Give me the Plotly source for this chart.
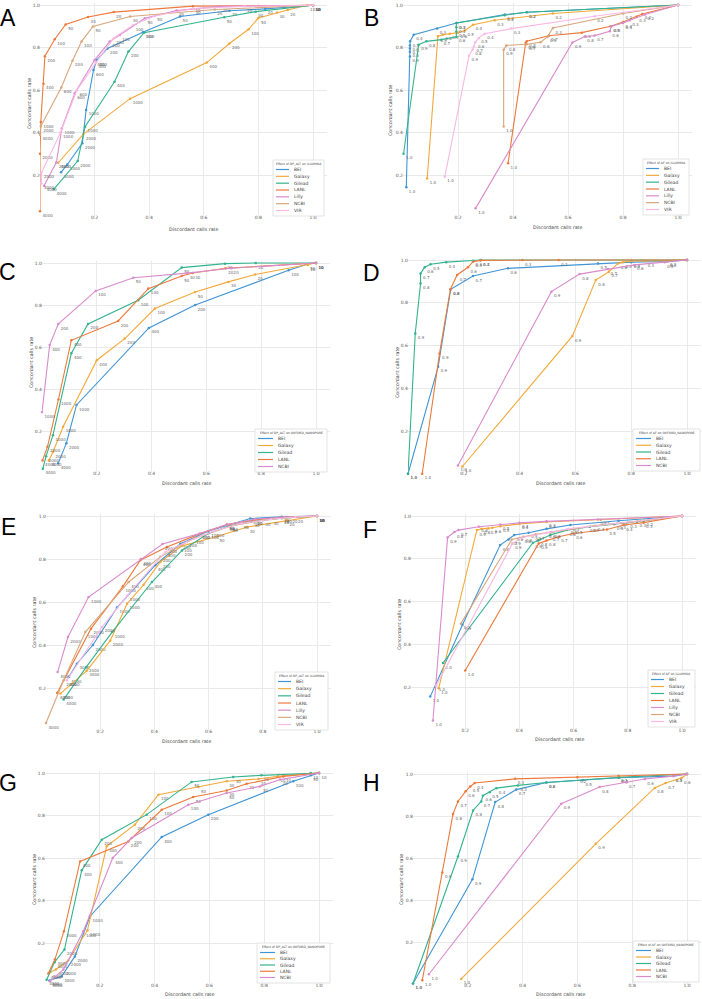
import plotly.graph_objects as go

W, H = 702, 999

TICK_VALS = [0.2, 0.4, 0.6, 0.8, 1.0]
TICK_TEXT = ["0.2", "0.4", "0.6", "0.8", "1.0"]
X_TITLE = "Discordant calls rate"
Y_TITLE = "Concordant calls rate"

COL_BEI = "#3f94d4"
COL_GALAXY = "#f2a93b"
COL_GILEAD = "#33b38d"
COL_LANL = "#ec7a3c"
COL_PINK = "#d98bcc"
COL_NCBI = "#d8a77c"
COL_VIR = "#f9b9e6"

# ---------------- Panel A : DP_ALT on ILLUMINA ----------------
A_BEI = [(0.077, 0.213, '4000'), (0.10, 0.25, '3000'), (0.155, 0.35, '2000'), (0.169, 0.507, '1000'),
         (0.196, 0.695, '600'), (0.208, 0.742, '400'), (0.247, 0.797, '200'), (0.377, 0.873, '100'),
         (0.513, 0.947, '50'), (0.694, 0.974, '30'), (0.825, 0.983, '20'), (1.0, 1.0, '10')]
A_GALAXY = [(0.067, 0.258, '4000'), (0.159, 0.393, '2000'), (0.33, 0.56, '1000'), (0.611, 0.73, '400'),
            (0.694, 0.82, '200'), (0.764, 0.887, '100'), (0.80, 0.94, '50'), (0.868, 0.966, '30'),
            (0.907, 0.978, '20'), (0.98, 1.0, '10')]
A_GILEAD = [(0.051, 0.134, '4000'), (0.138, 0.266, '2000'), (0.165, 0.428, '1000'), (0.273, 0.64, '400'),
            (0.324, 0.782, '200'), (0.381, 0.871, '100'), (0.675, 0.944, '50'), (0.79, 0.97, '30'),
            (1.0, 1.0, '10')]
A_LANL = [(0.0, 0.03, '4000'), (0.0, 0.30, '2000'), (0.003, 0.45, '1000'), (0.013, 0.63, '400'),
          (0.018, 0.76, '200'), (0.054, 0.84, '100'), (0.094, 0.91, '50'), (0.176, 0.945, '30'),
          (0.27, 0.968, '20'), (0.56, 0.996, '10'), (1.0, 1.0, '')]
A_LILLY = [(0.015, 0.15, '4000'), (0.06, 0.26, '2000'), (0.08, 0.42, '1000'), (0.127, 0.585, '600'),
           (0.2, 0.742, '400'), (0.255, 0.829, '200'), (0.292, 0.86, '100'), (0.384, 0.939, '50'),
           (0.5, 0.975, '30'), (0.66, 0.995, '20'), (1.0, 1.0, '10')]
A_NCBI = [(0.0, 0.39, '4000'), (0.003, 0.43, '2000'), (0.078, 0.613, '600'), (0.119, 0.739, '200'),
          (0.152, 0.829, '100'), (0.194, 0.90, '50'), (0.33, 0.947, '30'), (0.64, 0.98, '20'),
          (1.0, 1.0, '10')]
A_VIR = [(0.005, 0.16, '4000'), (0.005, 0.21, '2000'), (0.075, 0.40, '1000'), (0.135, 0.60, '600'),
         (0.205, 0.73, '400'), (0.27, 0.845, '200'), (0.341, 0.907, '100'), (0.42, 0.95, '50'),
         (0.56, 0.985, '30'), (0.75, 0.995, '20'), (1.0, 1.0, '10')]

# ---------------- Panel B : AF on ILLUMINA ----------------
B_BEI = [(0.012, 0.142, '1.0'), (0.025, 0.758, '0.9'), (0.025, 0.78, '0.8'), (0.025, 0.795, '0.7'),
         (0.025, 0.81, '0.6'), (0.026, 0.83, '0.5'), (0.039, 0.86, '0.4'), (0.124, 0.89, '0.3'),
         (0.195, 0.915, '0.3'), (0.37, 0.955, '0.2'), (0.45, 0.966, '0.2'), (1.0, 1.0, '')]
B_GALAXY = [(0.088, 0.184, '1.0'), (0.127, 0.853, '0.9'), (0.145, 0.86, '0.8'), (0.17, 0.865, '0.7'),
            (0.2, 0.87, '0.6'), (0.225, 0.88, '0.5'), (0.255, 0.907, '0.4'), (0.333, 0.928, '0.3'),
            (0.545, 0.96, '0.2'), (1.0, 1.0, '')]
B_GILEAD = [(0.002, 0.30, '1.0'), (0.057, 0.813, '0.9'), (0.085, 0.829, '0.8'), (0.139, 0.837, '0.7'),
            (0.194, 0.85, '0.6'), (0.194, 0.875, '0.5'), (0.194, 0.895, '0.4'), (0.194, 0.915, '0.3'),
            (0.37, 0.952, '0.2'), (0.45, 0.966, '0.2'), (1.0, 1.0, '')]
B_LANL = [(0.382, 0.255, '1.0'), (0.446, 0.821, '0.9'), (0.45, 0.83, '0.8'), (0.53, 0.855, '0.7'),
          (0.65, 0.87, '0.6'), (0.755, 0.90, '0.5'), (0.80, 0.92, '0.4'), (0.85, 0.945, '0.3'),
          (0.87, 0.958, '0.2'), (1.0, 1.0, '')]
B_LILLY = [(0.264, 0.043, '1.0'), (0.616, 0.824, '0.9'), (0.661, 0.852, '0.8'), (0.697, 0.856, '0.7'),
           (0.752, 0.876, '0.6'), (0.758, 0.90, '0.5'), (0.80, 0.915, '0.4'), (0.824, 0.928, '0.3'),
           (0.88, 0.955, '0.2'), (1.0, 1.0, '')]
B_NCBI = [(0.366, 0.428, '1.0'), (0.366, 0.79, '0.9'), (0.376, 0.81, '0.8'), (0.45, 0.815, '0.7'),
          (0.50, 0.825, '0.6'), (0.525, 0.85, '0.5'), (0.545, 0.892, '0.3'), (0.80, 0.96, '0.2'),
          (1.0, 1.0, '')]
B_VIR = [(0.152, 0.192, '1.0'), (0.24, 0.761, '0.9'), (0.253, 0.79, '0.8'), (0.258, 0.805, '0.7'),
         (0.263, 0.825, '0.6'), (0.275, 0.845, '0.5'), (0.297, 0.865, '0.4'), (0.394, 0.889, '0.3'),
         (0.697, 0.947, '0.2'), (1.0, 1.0, '')]

# ---------------- Panel C : DP_ALT on OXFORD_NANOPORE ----------------
C_BEI = [(0.059, 0.046, '4000'), (0.089, 0.142, '2000'), (0.126, 0.324, '1000'), (0.39, 0.691, '400'),
         (0.559, 0.80, '200'), (0.90, 0.965, '100'), (0.97, 0.995, '50'), (1.0, 1.0, '')]
C_GALAXY = [(0.025, 0.06, '4000'), (0.04, 0.10, '2000'), (0.077, 0.22, '1000'), (0.20, 0.537, '400'),
            (0.302, 0.64, '200'), (0.412, 0.783, '100'), (0.559, 0.862, '50'), (0.68, 0.91, '30'),
            (0.778, 0.945, '20'), (0.97, 0.99, '10'), (1.0, 1.0, '')]
C_GILEAD = [(0.003, 0.02, '4000'), (0.015, 0.08, '2000'), (0.04, 0.18, '1000'), (0.107, 0.57, '400'),
            (0.168, 0.71, '200'), (0.351, 0.823, '100'), (0.51, 0.978, '50'), (0.668, 0.997, '30'),
            (0.78, 1.0, '20'), (1.0, 1.0, '10')]
C_LANL = [(0.002, 0.06, '4000'), (0.02, 0.125, '2000'), (0.06, 0.35, '1000'), (0.107, 0.632, '400'),
          (0.278, 0.724, '200'), (0.388, 0.878, '100'), (0.51, 0.938, '50'), (0.55, 0.952, '30'),
          (0.67, 0.975, '20'), (1.0, 1.0, '10')]
C_NCBI = [(0.0, 0.29, '1000'), (0.028, 0.609, '400'), (0.059, 0.709, '200'), (0.196, 0.867, '100'),
          (0.333, 0.93, '50'), (0.53, 0.952, '30'), (0.69, 0.975, '20'), (1.0, 1.0, '10')]

# ---------------- Panel D : AF on OXFORD_NANOPORE ----------------
D_BEI = [(0.0, 0.0, '1.0'), (0.108, 0.50, '0.9'), (0.153, 0.863, '0.8'), (0.233, 0.925, '0.7'),
         (0.358, 0.961, '0.6'), (0.681, 0.984, '0.5'), (0.80, 0.99, '0.4'), (0.93, 0.993, '0.3'),
         (1.0, 1.0, '')]
D_GALAXY = [(0.195, 0.034, '1.0'), (0.589, 0.644, '0.9'), (0.673, 0.906, '0.8'), (0.72, 0.945, '0.7'),
            (0.753, 0.984, '0.6'), (0.77, 0.99, '0.5'), (0.80, 0.995, '0.4'), (0.85, 0.995, '0.3'),
            (0.93, 0.997, '0.2'), (1.0, 1.0, '')]
D_GILEAD = [(0.0, 0.0, '1.0'), (0.026, 0.656, '0.9'), (0.045, 0.89, '0.8'), (0.045, 0.937, '0.7'),
            (0.06, 0.966, '0.6'), (0.081, 0.98, '0.5'), (0.137, 0.99, '0.4'), (0.233, 0.997, '0.3'),
            (0.26, 1.0, '0.2'), (1.0, 1.0, '')]
D_LANL = [(0.051, 0.0, '1.0'), (0.113, 0.563, '0.9'), (0.152, 0.863, '0.8'), (0.176, 0.93, '0.7'),
          (0.215, 0.966, '0.6'), (0.233, 0.992, '0.5'), (0.26, 0.998, '0.4'), (0.41, 1.0, '0.3'),
          (0.54, 1.0, '0.2'), (1.0, 1.0, '')]
D_NCBI = [(0.179, 0.039, '1.0'), (0.514, 0.852, '0.9'), (0.615, 0.934, '0.8'), (0.717, 0.958, '0.7'),
          (0.812, 0.977, '0.6'), (0.92, 0.99, '0.5'), (1.0, 1.0, '')]

# ---------------- Panel E : DP_ALT on ILLUMINA ----------------
E_BEI = [(0.084, 0.251, '4000'), (0.114, 0.313, '3000'), (0.173, 0.40, '2000'), (0.262, 0.574, '1000'),
         (0.403, 0.771, '400'), (0.496, 0.871, '200'), (0.60, 0.93, '100'), (0.668, 0.957, '50'),
         (0.754, 0.988, '30'), (0.87, 0.996, '20'), (1.0, 1.0, '10')]
E_GALAXY = [(0.053, 0.174, '4000'), (0.15, 0.28, '3000'), (0.237, 0.42, '2000'), (0.299, 0.592, '1000'),
            (0.36, 0.68, '400'), (0.422, 0.786, '200'), (0.50, 0.86, '100'), (0.631, 0.905, '50'),
            (0.742, 0.949, '30'), (0.889, 0.98, '20'), (1.0, 1.0, '10')]
E_GILEAD = [(0.065, 0.146, '4000'), (0.149, 0.298, '2000'), (0.244, 0.46, '1000'), (0.391, 0.693, '400'),
            (0.502, 0.84, '200'), (0.60, 0.92, '100'), (0.68, 0.955, '50'), (0.76, 0.975, '30'),
            (0.87, 0.99, '20'), (1.0, 1.0, '10')]
E_LANL = [(0.041, 0.177, '4000'), (0.166, 0.476, '2000'), (0.284, 0.673, '1000'), (0.348, 0.794, '400'),
          (0.446, 0.856, '200'), (0.569, 0.918, '100'), (0.668, 0.96, '50'), (0.77, 0.982, '30'),
          (0.87, 0.993, '20'), (1.0, 1.0, '10')]
E_LILLY = [(0.043, 0.274, '4000'), (0.081, 0.437, '2000'), (0.157, 0.623, '1000'), (0.35, 0.80, '400'),
           (0.43, 0.87, '200'), (0.566, 0.918, '100'), (0.668, 0.96, '50'), (0.77, 0.985, '30'),
           (0.88, 0.995, '20'), (1.0, 1.0, '10')]
E_NCBI = [(0.0, 0.037, '4000'), (0.065, 0.236, '2000'), (0.145, 0.46, '1000'), (0.305, 0.693, '400'),
          (0.422, 0.81, '200'), (0.545, 0.895, '100'), (0.68, 0.952, '50'), (0.80, 0.98, '30'),
          (0.90, 0.993, '20'), (1.0, 1.0, '10')]
E_VIR = [(0.077, 0.236, '4000'), (0.207, 0.484, '2000'), (0.30, 0.63, '1000'), (0.44, 0.833, '400'),
         (0.52, 0.88, '200'), (0.62, 0.93, '100'), (0.72, 0.965, '50'), (0.83, 0.985, '30'),
         (0.92, 0.995, '20'), (1.0, 1.0, '10')]

# ---------------- Panel F : AF on ILLUMINA ----------------
F_BEI = [(0.071, 0.156, '1.0'), (0.19, 0.492, '0.9'), (0.329, 0.864, '0.8'), (0.36, 0.89, '0.7'),
         (0.381, 0.911, '0.6'), (0.434, 0.922, '0.5'), (0.50, 0.94, '0.4'), (0.588, 0.958, '0.3'),
         (0.766, 0.978, '0.2'), (1.0, 1.0, '')]
F_GALAXY = [(0.102, 0.195, '1.0'), (0.243, 0.934, '0.9'), (0.26, 0.94, '0.8'), (0.285, 0.942, '0.7'),
            (0.30, 0.945, '0.6'), (0.33, 0.952, '0.5'), (0.40, 0.963, '0.4'), (0.50, 0.972, '0.3'),
            (0.70, 0.983, '0.2'), (1.0, 1.0, '')]
F_GILEAD = [(0.118, 0.313, '1.0'), (0.45, 0.875, '0.9'), (0.47, 0.885, '0.8'), (0.514, 0.911, '0.7'),
            (0.575, 0.934, '0.6'), (0.66, 0.95, '0.5'), (0.75, 0.962, '0.4'), (0.834, 0.973, '0.3'),
            (0.86, 0.978, '0.2'), (1.0, 1.0, '')]
F_LANL = [(0.20, 0.278, '1.0'), (0.471, 0.872, '0.9'), (0.50, 0.885, '0.8'), (0.545, 0.903, '0.7'),
          (0.60, 0.918, '0.6'), (0.723, 0.937, '0.5'), (0.785, 0.958, '0.4'), (0.858, 0.969, '0.3'),
          (1.0, 1.0, '')]
F_LILLY = [(0.081, 0.044, '1.0'), (0.135, 0.90, '0.9'), (0.16, 0.925, '0.8'), (0.175, 0.934, '0.7'),
           (0.25, 0.95, '0.6'), (0.33, 0.96, '0.5'), (0.40, 0.968, '0.4'), (0.50, 0.975, '0.3'),
           (0.69, 0.984, '0.2'), (1.0, 1.0, '')]
F_NCBI = [(0.184, 0.497, '1.0'), (0.372, 0.89, '0.9'), (0.415, 0.903, '0.8'), (0.46, 0.915, '0.7'),
          (0.52, 0.925, '0.6'), (0.60, 0.94, '0.5'), (0.68, 0.955, '0.4'), (0.80, 0.97, '0.3'),
          (1.0, 1.0, '')]
F_VIR = [(0.093, 0.208, '1.0'), (0.375, 0.872, '0.9'), (0.41, 0.90, '0.8'), (0.45, 0.91, '0.7'),
         (0.50, 0.922, '0.6'), (0.58, 0.94, '0.5'), (0.65, 0.95, '0.4'), (0.76, 0.966, '0.3'),
         (1.0, 1.0, '')]

# ---------------- Panel G : DP_ALT on OXFORD_NANOPORE ----------------
G_BEI = [(0.016, 0.024, '4000'), (0.061, 0.043, '3000'), (0.109, 0.137, '2000'), (0.164, 0.325, '1000'),
         (0.426, 0.699, '400'), (0.596, 0.804, '200'), (0.906, 0.961, '100'), (0.97, 0.99, '50'),
         (1.0, 1.0, '')]
G_GALAXY = [(0.018, 0.062, '4000'), (0.04, 0.075, '3000'), (0.085, 0.118, '2000'), (0.155, 0.26, '1000'),
            (0.225, 0.655, '400'), (0.328, 0.757, '200'), (0.414, 0.898, '100'), (0.56, 0.934, '50'),
            (0.663, 0.961, '30'), (0.779, 0.972, '20'), (0.85, 0.985, '10'), (1.0, 1.0, '')]
G_GILEAD = [(0.006, 0.027, '4000'), (0.035, 0.11, '3000'), (0.071, 0.169, '2000'), (0.134, 0.542, '400'),
            (0.207, 0.686, '200'), (0.371, 0.804, '100'), (0.535, 0.958, '50'), (0.687, 0.981, '30'),
            (0.79, 0.989, '20'), (0.97, 1.0, '10'), (1.0, 1.0, '')]
G_LANL = [(0.012, 0.056, '4000'), (0.036, 0.122, '3000'), (0.069, 0.255, '2000'), (0.128, 0.584, '400'),
          (0.304, 0.678, '200'), (0.426, 0.827, '100'), (0.541, 0.887, '50'), (0.663, 0.918, '30'),
          (0.736, 0.949, '20'), (0.87, 0.984, '10'), (1.0, 1.0, '')]
G_NCBI = [(0.018, 0.02, '4000'), (0.067, 0.075, '2000'), (0.14, 0.255, '1000'), (0.247, 0.60, '400'),
          (0.316, 0.694, '200'), (0.523, 0.851, '100'), (0.663, 0.906, '50'), (0.785, 0.937, '30'),
          (0.858, 0.969, '20'), (1.0, 1.0, '10')]

# ---------------- Panel H : AF on OXFORD_NANOPORE ----------------
H_BEI = [(0.0, 0.007, '1.0'), (0.217, 0.501, '0.9'), (0.30, 0.867, '0.8'), (0.377, 0.926, '0.7'),
         (0.487, 0.96, '0.6'), (0.62, 0.97, '0.5'), (0.75, 0.982, '0.4'), (0.95, 0.99, '0.3'),
         (1.0, 1.0, '')]
H_GALAXY = [(0.176, 0.029, '1.0'), (0.667, 0.669, '0.9'), (0.882, 0.934, '0.8'), (0.922, 0.957, '0.7'),
            (0.98, 0.981, '0.6'), (1.0, 1.0, '')]
H_GILEAD = [(0.0, 0.007, '1.0'), (0.164, 0.609, '0.9'), (0.219, 0.827, '0.8'), (0.249, 0.87, '0.7'),
            (0.255, 0.897, '0.6'), (0.28, 0.914, '0.5'), (0.304, 0.933, '0.4'), (0.383, 0.946, '0.3'),
            (0.487, 0.96, '0.2'), (0.754, 0.984, '0.1'), (1.0, 1.0, '')]
H_LANL = [(0.034, 0.023, '1.0'), (0.107, 0.533, '0.9'), (0.146, 0.81, '0.8'), (0.164, 0.87, '0.7'),
          (0.192, 0.918, '0.6'), (0.209, 0.941, '0.5'), (0.225, 0.957, '0.4'), (0.373, 0.977, '0.3'),
          (0.60, 0.985, '0.2'), (0.75, 0.99, '0.1'), (1.0, 1.0, '')]
H_NCBI = [(0.058, 0.051, '1.0'), (0.541, 0.859, '0.9'), (0.681, 0.938, '0.8'), (0.779, 0.96, '0.7'),
          (0.846, 0.976, '0.6'), (0.95, 0.99, '0.5'), (1.0, 1.0, '')]

ILL7 = lambda bei, gal, gil, lanl, lilly, ncbi, vir: [
    ("BEI", bei, COL_BEI), ("Galaxy", gal, COL_GALAXY), ("Gilead", gil, COL_GILEAD),
    ("LANL", lanl, COL_LANL), ("Lilly", lilly, COL_PINK), ("NCBI", ncbi, COL_NCBI), ("VIR", vir, COL_VIR)]
ONT5 = lambda bei, gal, gil, lanl, ncbi: [
    ("BEI", bei, COL_BEI), ("Galaxy", gal, COL_GALAXY), ("Gilead", gil, COL_GILEAD),
    ("LANL", lanl, COL_LANL), ("NCBI", ncbi, COL_PINK)]

# layout in pixels: geom = (x px of data 0, x px of data 1, y px of data 1, y px of data 0)
panels = [
    dict(letter="A", title="Effect of DP_ALT on ILLUMINA",
         series=ILL7(A_BEI, A_GALAXY, A_GILEAD, A_LANL, A_LILLY, A_NCBI, A_VIR),
         geom=(40, 313, 5.3, 217.5), leg=(273, 160, 324, 216), lp=(8, 18), xt=(193, 229), yt=(29, 103)),
    dict(letter="B", title="Effect of AF on ILLUMINA",
         series=ILL7(B_BEI, B_GALAXY, B_GILEAD, B_LANL, B_LILLY, B_NCBI, B_VIR),
         geom=(403, 678, 5.0, 217.5), leg=(643, 159, 689, 215), lp=(371, 18), xt=(557, 228), yt=(391, 110)),
    dict(letter="C", title="Effect of DP_ALT on OXFORD_NANOPORE",
         series=ONT5(C_BEI, C_GALAXY, C_GILEAD, C_LANL, C_NCBI),
         geom=(42, 316, 263, 473), leg=(255, 429, 327, 472), lp=(7, 272), xt=(186, 484), yt=(31, 363)),
    dict(letter="D", title="Effect of AF on OXFORD_NANOPORE",
         series=ONT5(D_BEI, D_GALAXY, D_GILEAD, D_LANL, D_NCBI),
         geom=(408, 687, 260, 473.75), leg=(633, 429, 700, 471), lp=(371, 273), xt=(560, 484), yt=(397, 373)),
    dict(letter="E", title="Effect of DP_ALT on ILLUMINA",
         series=ILL7(E_BEI, E_GALAXY, E_GILEAD, E_LANL, E_LILLY, E_NCBI, E_VIR),
         geom=(46, 317, 516, 731), leg=(275, 672, 328, 730), lp=(8, 527), xt=(187, 741), yt=(34, 623)),
    dict(letter="F", title="Effect of AF on ILLUMINA",
         series=ILL7(F_BEI, F_GALAXY, F_GILEAD, F_LANL, F_LILLY, F_NCBI, F_VIR),
         geom=(411, 682, 516, 730), leg=(648, 670, 695, 727), lp=(370, 530), xt=(559, 739), yt=(399, 625)),
    dict(letter="G", title="Effect of DP_ALT on OXFORD_NANOPORE",
         series=ONT5(G_BEI, G_GALAXY, G_GILEAD, G_LANL, G_NCBI),
         geom=(45, 319, 773, 985.5), leg=(257, 943, 330, 983), lp=(8, 783), xt=(189, 994), yt=(34, 880)),
    dict(letter="H", title="Effect of AF on OXFORD_NANOPORE",
         series=ONT5(H_BEI, H_GALAXY, H_GILEAD, H_LANL, H_NCBI),
         geom=(413, 687, 774, 985), leg=(633, 941, 699, 982), lp=(371, 783), xt=(560, 994), yt=(401, 880)),
]

XMAX, YMAX = 1.05, 1.01


def px(x):
    return x / W


def py(y):
    return 1 - y / H


fig = go.Figure()
layout = dict(width=W, height=H, margin=dict(l=0, r=0, t=0, b=0),
              plot_bgcolor="white", paper_bgcolor="white", showlegend=False,
              font=dict(family="DejaVu Sans", color="#444"))
shapes, annots = [], []

for k, p in enumerate(panels, start=1):
    sfx = "" if k == 1 else str(k)
    x0, x1, yt, yb = p["geom"]
    right = x0 + XMAX * (x1 - x0)
    top = yb - YMAX * (yb - yt)
    axis_common = dict(showgrid=True, gridcolor="#e9e9e9", gridwidth=1, zeroline=False,
                       showline=False, ticks="", ticklen=0, tickvals=TICK_VALS, ticktext=TICK_TEXT,
                       tickfont=dict(size=4.5, color="#555"), automargin=False)
    layout["xaxis" + sfx] = dict(domain=[px(x0), px(right)], range=[0, XMAX], anchor="y" + sfx,
                                 ticklabelstandoff=-4, **axis_common)
    layout["yaxis" + sfx] = dict(domain=[py(yb), py(top)], range=[0, YMAX], anchor="x" + sfx,
                                 ticklabelstandoff=-1, **axis_common)
    for name, pts, col in p["series"]:
        fig.add_trace(go.Scatter(
            x=[q[0] for q in pts], y=[q[1] for q in pts], text=[q[2] for q in pts],
            mode="lines+markers+text", name=name,
            line=dict(color=col, width=1.1), marker=dict(color=col, size=2.5),
            textposition="bottom right", textfont=dict(size=4, color="#666"),
            cliponaxis=False, xaxis="x" + sfx, yaxis="y" + sfx, showlegend=False))

    # axis titles
    tx, ty = p["xt"]
    annots.append(dict(x=px(tx), y=py(ty), xref="paper", yref="paper", text=X_TITLE, showarrow=False,
                       font=dict(size=4.8, color="#444"), xanchor="center", yanchor="middle"))
    tx, ty = p["yt"]
    annots.append(dict(x=px(tx), y=py(ty), xref="paper", yref="paper", text=Y_TITLE, showarrow=False,
                       textangle=-90, font=dict(size=4.8, color="#444"), xanchor="center", yanchor="middle"))

    # panel letter
    lx, ly = p["lp"]
    annots.append(dict(x=px(lx), y=py(ly), xref="paper", yref="paper", text=p["letter"],
                       showarrow=False, font=dict(size=23, color="black", family="Liberation Sans"),
                       xanchor="center", yanchor="middle"))

    # legend box (drawn manually)
    L, T, R, B = p["leg"]
    shapes.append(dict(type="rect", xref="paper", yref="paper", x0=px(L), x1=px(R), y0=py(B), y1=py(T),
                       fillcolor="white", line=dict(color="#dcdcdc", width=0.8), layer="above"))
    annots.append(dict(x=px((L + R) / 2), y=py(T + 3.6), xref="paper", yref="paper", text=p["title"],
                       showarrow=False, font=dict(size=3.1, color="#444"),
                       xanchor="center", yanchor="middle"))
    n = len(p["series"])
    first, last = T + 9.5, B - 5.5
    step = (last - first) / (n - 1)
    lw = 13 if n == 7 else 15
    for i, (name, pts, col) in enumerate(p["series"]):
        yy = first + i * step
        shapes.append(dict(type="line", xref="paper", yref="paper", x0=px(L + 3), x1=px(L + 3 + lw),
                           y0=py(yy), y1=py(yy), line=dict(color=col, width=1.2), layer="above"))
        annots.append(dict(x=px(L + 6 + lw), y=py(yy), xref="paper", yref="paper", text=name,
                           showarrow=False, font=dict(size=4.5, color="#444"),
                           xanchor="left", yanchor="middle"))

layout["shapes"] = shapes
layout["annotations"] = annots
fig.update_layout(**layout)
# remove the default 8px page margin so the figure sits at the window's top-left corner
fig.write_html("out.html",
               config={"displayModeBar": False},
               post_script="document.body.style.margin='0';document.body.style.overflow='hidden';")
